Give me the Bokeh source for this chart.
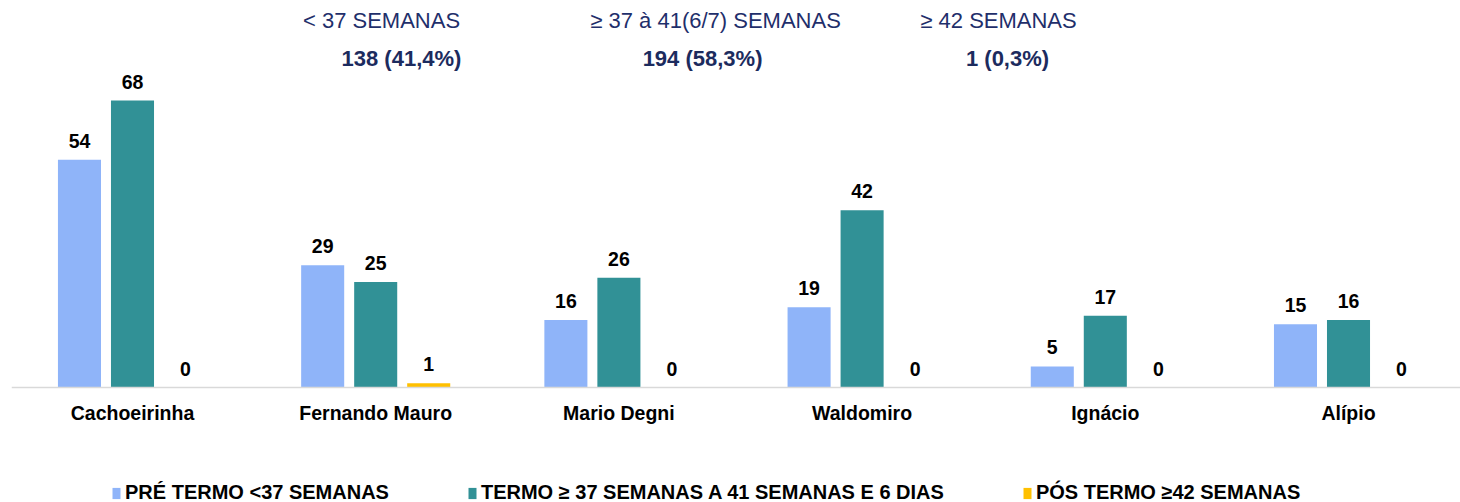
from bokeh.plotting import figure
from bokeh.models import (ColumnDataSource, FixedTicker, Range1d, Legend, LegendItem,
                          LabelSet, Label, LinearAxis)
from bokeh.core.properties import value
from bokeh.embed import file_html
from bokeh.resources import INLINE

# ---- data ----
categories = ["Cachoeirinha", "Fernando Mauro", "Mario Degni", "Waldomiro", "Ignácio", "Alípio"]
pre_termo = [54, 29, 16, 19, 5, 15]
termo = [68, 25, 26, 42, 17, 16]
pos_termo = [0, 1, 0, 0, 0, 0]
series_names = ["PRÉ TERMO <37 SEMANAS", "TERMO ≥ 37 SEMANAS A 41 SEMANAS E 6 DIAS", "PÓS TERMO ≥42 SEMANAS"]
header_titles = ["< 37 SEMANAS", "≥ 37 à 41(6/7)  SEMANAS", "≥ 42 SEMANAS"]
header_totals = ["138 (41,4%)", "194 (58,3%)", "1 (0,3%)"]

colors = ["#8FB4F9", "#319196", "#FFC000"]
FONT = "Liberation Sans"

W, H = 1460, 502
p = figure(width=W, height=H, output_backend="svg", toolbar_location=None,
           x_range=Range1d(-0.4975, 5.4605), y_range=Range1d(-27.25, 91.71),
           min_border_left=11, min_border_right=0, min_border_top=0, min_border_bottom=0,
           x_axis_type=None, y_axis_type=None)
p.outline_line_color = None
p.xgrid.visible = False
p.ygrid.visible = False
p.background_fill_color = "white"
p.border_fill_color = "white"

offsets = [-0.218, 0.0, 0.218]
bar_w = 0.177
renderers = []
for vals, col, off in zip([pre_termo, termo, pos_termo], colors, offsets):
    src = ColumnDataSource(dict(x=[i + off for i in range(len(categories))], top=vals,
                                lab=[str(v) for v in vals]))
    r = p.vbar(x="x", top="top", bottom=0, width=bar_w, source=src,
               fill_color=col, line_color=None)
    renderers.append(r)
    p.add_layout(LabelSet(x="x", y="top", text="lab", source=src, text_align="center",
                          text_baseline="middle", y_offset=19, text_font=value(FONT),
                          text_font_style="bold", text_font_size="19.5px", text_color="black"))

# x axis at y=0
ax = LinearAxis(ticker=FixedTicker(ticks=list(range(len(categories)))),
                major_label_overrides={i: c for i, c in enumerate(categories)})
ax.fixed_location = 0
ax.axis_line_color = "#D9D9D9"
ax.axis_line_width = 1.5
ax.major_tick_line_color = None
ax.minor_tick_line_color = None
ax.major_tick_out = 0
ax.major_tick_in = 0
ax.major_label_standoff = 14
ax.major_label_text_font = FONT
ax.major_label_text_font_style = "bold"
ax.major_label_text_font_size = "19.5px"
ax.major_label_text_color = "black"
p.add_layout(ax, "below")

# header annotations
title_x = [1.024, 2.410, 3.561]
total_x = [1.106, 2.344, 3.598]
for t, x in zip(header_titles, title_x):
    p.add_layout(Label(x=x, y=87.0, text=t, text_align="center", text_baseline="middle",
                       text_font=FONT, text_font_size="22px", text_color="#1F2F6B"))
for t, x in zip(header_totals, total_x):
    p.add_layout(Label(x=x, y=78.0, text=t, text_align="center", text_baseline="middle",
                       text_font=FONT, text_font_style="bold", text_font_size="22px",
                       text_color="#1C2B5E"))

legend = Legend(items=[LegendItem(label=n, renderers=[r]) for n, r in zip(series_names, renderers)],
                orientation="horizontal", location=(100, -2), margin=0, padding=0,
                spacing=78, glyph_width=10, glyph_height=14, label_standoff=4,
                label_text_font=FONT, label_text_font_style="bold", label_text_font_size="20px",
                label_text_color="black", border_line_color=None, background_fill_alpha=0)
p.add_layout(legend, "center")

open("out.html", "w").write(file_html(p, INLINE))
